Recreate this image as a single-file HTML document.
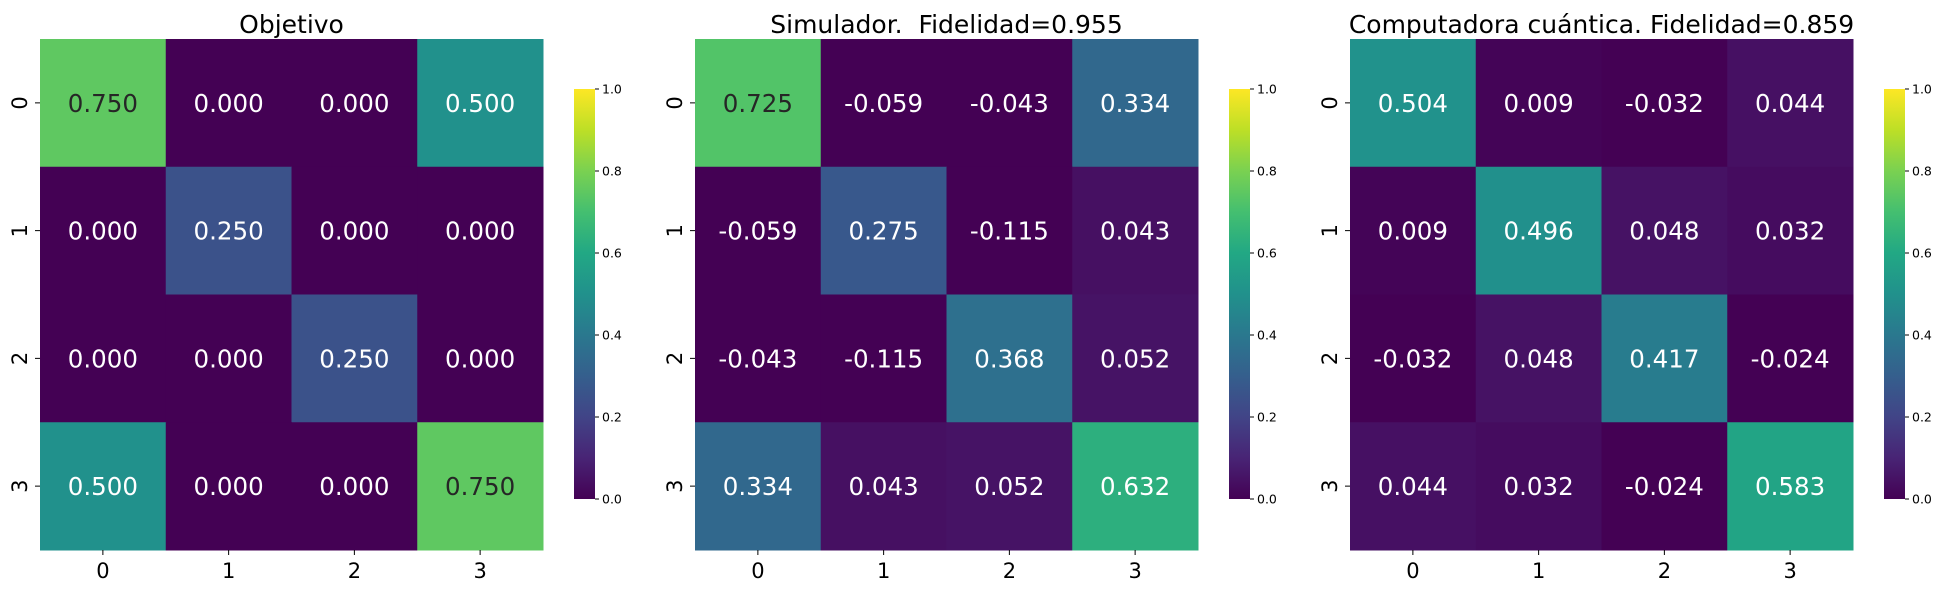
<!DOCTYPE html>
<html><head><meta charset="utf-8">
<style>
html,body{margin:0;padding:0;background:#fff;}
svg{display:block;font-family:"DejaVu Sans","Liberation Sans",sans-serif;}
text{white-space:pre;}
</style></head>
<body>
<svg id="chart" width="1947" height="590" viewBox="0 0 1947 590" xmlns="http://www.w3.org/2000/svg">
<defs>
<linearGradient id="viridis" x1="0" y1="1" x2="0" y2="0">
<stop offset="0" stop-color="#440154"/><stop offset="0.1" stop-color="#482475"/><stop offset="0.2" stop-color="#414487"/><stop offset="0.3" stop-color="#355f8d"/><stop offset="0.4" stop-color="#2a788e"/><stop offset="0.5" stop-color="#21918c"/><stop offset="0.6" stop-color="#22a884"/><stop offset="0.7" stop-color="#44bf70"/><stop offset="0.8" stop-color="#7ad151"/><stop offset="0.9" stop-color="#bddf26"/><stop offset="1" stop-color="#fde725"/>
</linearGradient>
</defs>
</svg>
<script>
const titles = ["Objetivo", "Simulador.  Fidelidad=0.955", "Computadora cuántica. Fidelidad=0.859"];
const rowLabels = ["0","1","2","3"];
const colLabels = ["0","1","2","3"];
const cbTicks = [0, 0.2, 0.4, 0.6, 0.8, 1.0];
const matObjetivo = [[0.750,0.000,0.000,0.500],[0.000,0.250,0.000,0.000],[0.000,0.000,0.250,0.000],[0.500,0.000,0.000,0.750]];
const matSimulador = [[0.725,-0.059,-0.043,0.334],[-0.059,0.275,-0.115,0.043],[-0.043,-0.115,0.368,0.052],[0.334,0.043,0.052,0.632]];
const matCuantica = [[0.504,0.009,-0.032,0.044],[0.009,0.496,0.048,0.032],[-0.032,0.048,0.417,-0.024],[0.044,0.032,-0.024,0.583]];
const matrices = [matObjetivo, matSimulador, matCuantica];
const vmin = 0, vmax = 1;

const stops = ["440154","482475","414487","355f8d","2a788e","21918c","22a884","44bf70","7ad151","bddf26","fde725"].map(h=>[parseInt(h.slice(0,2),16),parseInt(h.slice(2,4),16),parseInt(h.slice(4,6),16)]);
function viridis(v){
  let t=(v-vmin)/(vmax-vmin); t=Math.max(0,Math.min(1,t));
  const p=t*10, i=Math.min(9,Math.floor(p)), f=p-i;
  const c=stops[i].map((a,k)=>Math.round(a+(stops[i+1][k]-a)*f));
  return `rgb(${c[0]},${c[1]},${c[2]})`;
}
const svg=document.getElementById('chart');
const NS="http://www.w3.org/2000/svg";
function el(tag,attrs,parent){const e=document.createElementNS(NS,tag);for(const k in attrs)e.setAttribute(k,attrs[k]);(parent||svg).appendChild(e);return e;}

const panelX0=40, panelStep=655, panelW=503, panelTop=39, panelH=511;
const cbW=21, cbTop=89, cbBot=499, cbOff=534;
function xScale(p,j){return panelX0+p*panelStep+j*panelW/colLabels.length;}
function yScale(i){return panelTop+i*panelH/rowLabels.length;}
function cbY(v){return cbBot-(v-vmin)/(vmax-vmin)*(cbBot-cbTop);}

matrices.forEach((m,p)=>{
  const g=el('g',{});
  
  
  const cw=panelW/colLabels.length, ch=panelH/rowLabels.length;
  const t=el('text',{x:xScale(p,0)+panelW/2,y:33,'font-size':25,'text-anchor':'middle',fill:'#000'},g);
  t.textContent=titles[p];
  
  
  m.forEach((row,i)=>row.forEach((v,j)=>{
    const r=el('rect',{x:xScale(p,j),y:yScale(i),width:cw+0.5,height:ch+0.5,fill:viridis(v)},g);
    
    
    const tx=el('text',{x:xScale(p,j)+cw/2,y:yScale(i)+ch/2+9,'font-size':24.5,'text-anchor':'middle',fill:v>0.7?'#262626':'#fff'},g);
    tx.textContent=v.toFixed(3);
    
    
  }));
  rowLabels.forEach((l,i)=>{
    const y=yScale(i)+ch/2;
    el('line',{x1:xScale(p,0)-5,x2:xScale(p,0),y1:y,y2:y,stroke:'#000','stroke-width':1},g);
    const tl=el('text',{x:0,y:0,'font-size':21,'text-anchor':'middle',transform:`translate(${xScale(p,0)-13},${y}) rotate(-90)`,fill:'#000'},g);
    tl.textContent=l;
    
    
  });
  colLabels.forEach((l,j)=>{
    const x=xScale(p,j)+cw/2;
    el('line',{x1:x,x2:x,y1:panelTop+panelH,y2:panelTop+panelH+5,stroke:'#000','stroke-width':1},g);
    const tl=el('text',{x:x,y:panelTop+panelH+28,'font-size':21,'text-anchor':'middle',fill:'#000'},g);
    tl.textContent=l;
    
    
  });
  const cbx=panelX0+p*panelStep+cbOff;
  const cb=el('rect',{x:cbx,y:cbTop,width:cbW,height:cbBot-cbTop,fill:'url(#viridis)'},g);
  
  
  cbTicks.forEach(v=>{
    const y=cbY(v);
    el('line',{x1:cbx+cbW,x2:cbx+cbW+4,y1:y,y2:y,stroke:'#000','stroke-width':1},g);
    const tl=el('text',{x:cbx+cbW+7,y:y+4.5,'font-size':12.5,fill:'#000'},g);
    tl.textContent=v.toFixed(1);
    
    
  });
});
</script>
</body></html>
